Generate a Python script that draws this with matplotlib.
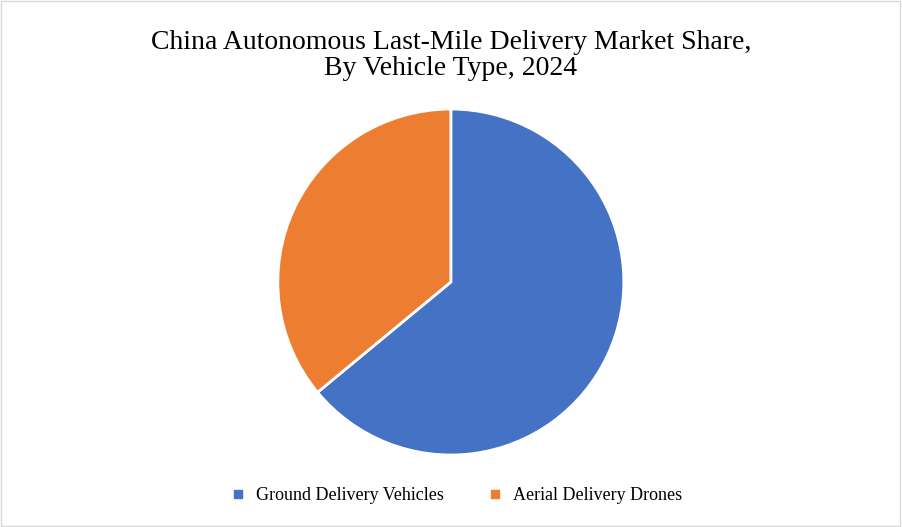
import matplotlib

matplotlib.use("Agg")

import matplotlib.pyplot as plt
from matplotlib.lines import Line2D
from matplotlib.patches import Rectangle

labels = ["Ground Delivery Vehicles", "Aerial Delivery Drones"]
shares = [64, 36]
colors = ["#4472C4", "#ED7D31"]

fig = plt.figure(figsize=(9.02, 5.27), dpi=100)
fig.patches.append(Rectangle((0.001, 0.002), 0.997, 0.996, transform=fig.transFigure,
                             fill=False, edgecolor="#D9D9D9", linewidth=1))

ax = fig.add_axes([0.308, 0.1366, 0.3836, 0.6565])
ax.pie(shares, colors=colors, startangle=90, counterclock=False, radius=1,
       wedgeprops={"edgecolor": "white", "linewidth": 2})
ax.set_xlim(-1.0, 1.0)
ax.set_ylim(-1.0, 1.0)
ax.set_aspect("equal")

fig.text(0.5, 0.895, "China Autonomous Last-Mile Delivery Market Share,\nBy Vehicle Type, 2024",
         ha="center", va="center", fontsize=20, family="Liberation Serif", linespacing=1.05)

handles = [Line2D([], [], marker="s", linestyle="", color=c, markersize=6) for c in colors]
fig.legend(handles, labels, loc="center", bbox_to_anchor=(0.5, 0.06), ncol=2, frameon=False,
           prop={"family": "Liberation Serif", "size": 13}, handletextpad=0.0, columnspacing=1.8)

fig.savefig("out.png", dpi=100)
